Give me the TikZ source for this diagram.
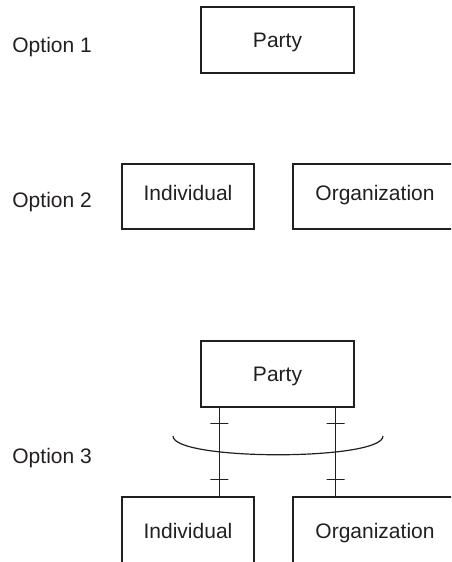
\documentclass[tikz,border=0pt]{standalone}
\usepackage{fontspec}
\setmainfont{Liberation Sans}
\usepackage{tikz}
\usepackage{xcolor}
\usetikzlibrary{calc}
\definecolor{ink}{HTML}{231F20}

\begin{document}
\begin{tikzpicture} %Options
  [
    x=0.5pt, y=-0.5pt,
    % estilos de cajas, etiquetas y marcas
    box/.style={rectangle, draw=ink, line width=0.7pt, inner sep=0pt,
      minimum height=32.5pt, text height=7.5pt, text depth=0.5pt,
      text=ink, font=\fontsize{10.5}{12}\selectfont},
    optlabel/.style={anchor=base west, inner sep=0pt, text=ink, font=\fontsize{10.5}{12}\selectfont},
    link/.style={draw=ink, line width=0.6pt},
    crossbar/.style={rectangle, draw=ink, line width=0.6pt, minimum width=9pt,
      minimum height=0pt, inner sep=0pt}
  ]
  \useasboundingbox (0,0) rectangle (451,562);
  \clip (0,0) rectangle (451,562);

  \node[optlabel] (opt1) at (12,52) {Option 1};
  \node[optlabel] (opt2) at (12,207) {Option 2};
  \node[optlabel] (opt3) at (12,463) {Option 3};

  \node[box, minimum width=76.5pt, minimum height=33pt] (party1) at (277.5,40) {Party};

  \node[box, minimum width=66pt, text depth=3.5pt] (ind2) at (188,196.5) {Individual};
  \node[box, minimum width=82pt, text depth=3.5pt] (org2) at (375,196.5) {Organization};

  \node[box, minimum width=76.5pt, minimum height=33pt] (party3) at (277.5,374) {Party};
  \node[box, minimum width=66pt, minimum height=34pt] (ind3) at (188,531) {Individual};
  \node[box, minimum width=82pt, minimum height=34pt] (org3) at (375,531) {Organization};

  \coordinate (pl) at ($(party3.south west)+(19,0)$);
  \coordinate (pr) at ($(party3.south east)+(-19,0)$);
  \path[link] (pl) -- (pl |- ind3.north)
    node[crossbar, pos=0.18] {} node[crossbar, pos=0.81] {};
  \path[link] (pr) -- (pr |- org3.north)
    node[crossbar, pos=0.18] {} node[crossbar, pos=0.81] {};

  \coordinate (arcl) at (173,436);
  \coordinate (arcr) at (383,436);
  \draw[link] (arcl) .. controls (173,461) and (383,461) .. (arcr);

\end{tikzpicture}
\end{document}
